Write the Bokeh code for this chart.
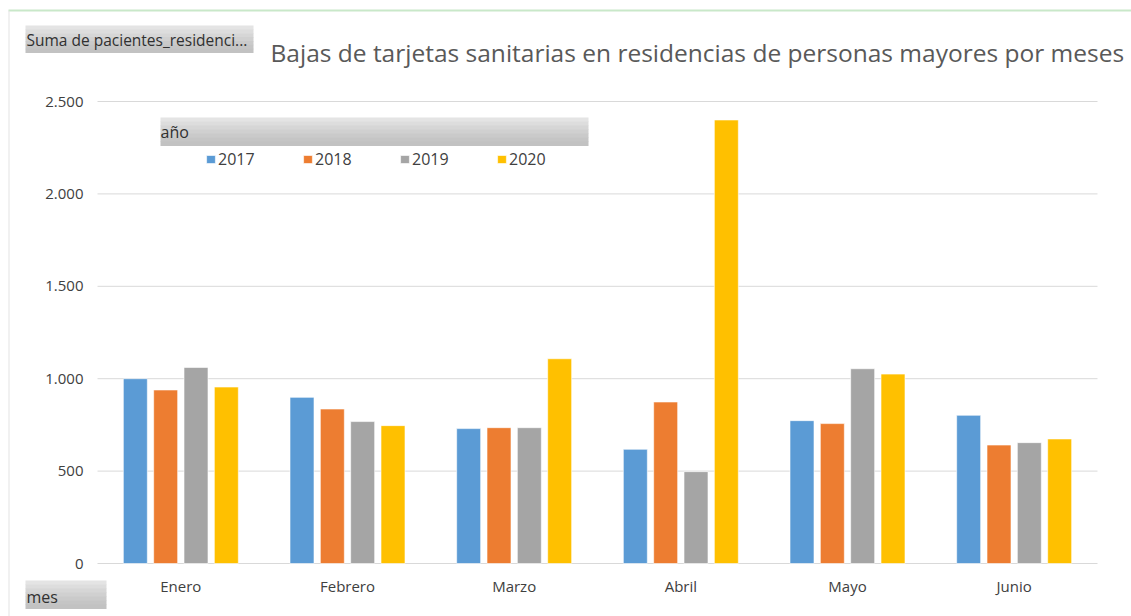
from bokeh.plotting import figure
from bokeh.models import (Range1d, FixedTicker, Label, BoxAnnotation,
                          Legend, LegendItem, ColumnDataSource)
from bokeh.transform import dodge
from bokeh.embed import file_html
from bokeh.resources import INLINE

meses = ["Enero", "Febrero", "Marzo", "Abril", "Mayo", "Junio"]
anios = ["2017", "2018", "2019", "2020"]
v2017 = [1000, 899, 730, 618, 773, 802]
v2018 = [939, 836, 735, 874, 757, 641]
v2019 = [1061, 768, 735, 497, 1054, 654]
v2020 = [955, 746, 1108, 2400, 1025, 674]
y_ticks = [0, 500, 1000, 1500, 2000, 2500]
y_tick_labels = ["0", "500", "1.000", "1.500", "2.000", "2.500"]
colores = ["#5B9BD5", "#ED7D31", "#A5A5A5", "#FFC000"]

FONT = "Open Sans"
W, H = 1131, 616
# plot area on the canvas: x 97..1097, y 101 (2.500) .. 563 (0)
PX_L, PX_R, PY_T, PY_B = 97, 1097, 101, 563
ncat = len(meses)
cat_px = (PX_R - PX_L) / ncat
y_px = (PY_B - PY_T) / y_ticks[-1]

centros = [i + 0.5 for i in range(ncat)]
src = ColumnDataSource(dict(x=centros, mes=meses, v2017=v2017, v2018=v2018,
                            v2019=v2019, v2020=v2020))

x_range = Range1d(-PX_L / cat_px, (W - PX_L) / cat_px)
y_range = Range1d(-(H - PY_B) / y_px, y_ticks[-1] + PY_T / y_px)

p = figure(width=W, height=H, x_range=x_range, y_range=y_range,
           output_backend="svg", toolbar_location=None,
           min_border=0, min_border_left=0, min_border_right=0,
           min_border_top=0, min_border_bottom=0)
p.outline_line_color = None
p.background_fill_color = "white"
p.border_fill_color = "white"
p.xgrid.grid_line_color = None
p.ygrid.grid_line_color = None

# gridlines limited to the plot area
p.segment(x0=0, x1=ncat, y0=y_ticks, y1=y_ticks, line_color="#d9d9d9", line_width=1)

offsets = [-0.273, -0.091, 0.091, 0.273]
renderers = []
for anio, col, off in zip(anios, colores, offsets):
    r = p.vbar(x=dodge("x", off), top="v" + anio, width=0.144, bottom=0,
               source=src, fill_color=col, line_color="white", line_width=1, line_alpha=0.6)
    renderers.append(r)

p.yaxis.fixed_location = 0
p.xaxis.fixed_location = 0
p.yaxis.ticker = FixedTicker(ticks=y_ticks)
p.yaxis.major_label_overrides = {t: l for t, l in zip(y_ticks, y_tick_labels)}
p.xaxis.ticker = FixedTicker(ticks=centros)
p.xaxis.major_label_overrides = {c: m for c, m in zip(centros, meses)}
for ax in (p.xaxis[0], p.yaxis[0]):
    ax.axis_line_color = None
    ax.major_tick_line_color = None
    ax.minor_tick_line_color = None
    ax.major_tick_out = 0
    ax.major_tick_in = 0
    ax.major_label_text_font = FONT
    ax.major_label_text_font_size = "15px"
    ax.major_label_text_color = "#404040"
p.yaxis.major_label_standoff = 14
p.xaxis.major_label_standoff = 12


def fy(py):
    return H - py


def caja(l, r, t, b, color, line=None):
    p.add_layout(BoxAnnotation(left=l, right=r, top=fy(t), bottom=fy(b),
                               left_units="screen", right_units="screen", top_units="screen",
                               bottom_units="screen", fill_color=color, fill_alpha=1,
                               line_color=line, line_width=1))


# outer chart border pieces
caja(8, W, 9, 11, "#c9e8c9")
caja(8, 9, 10, H, "#e3e3e3")

# field buttons with a soft vertical gradient
grad = ["#e4e4e4", "#dddddd", "#d6d6d6", "#d0d0d0", "#cacaca", "#c5c5c5", "#c2c2c2"]


def boton(l, r, t, b):
    n = len(grad)
    h = (b - t) / n
    for k, c in enumerate(grad):
        caja(l, r, t + k * h, t + (k + 1) * h + 0.5, c)


boton(25, 253, 25, 52)
boton(160, 588, 117, 145)
boton(25, 106, 580, 608)


def texto(x, y, s, size="16px", color="#303030"):
    p.add_layout(Label(x=x, y=fy(y), x_units="screen", y_units="screen", text=s,
                       text_font=FONT, text_font_size=size, text_color=color,
                       text_baseline="middle"))


texto(26, 39, "Suma de pacientes_residenci...", size="15.5px")
texto(160, 131, "año")
texto(26, 596, "mes")
texto(270, 52, "Bajas de tarjetas sanitarias en residencias de personas mayores por meses",
      size="24.5px", color="#595959")

legend = Legend(items=[LegendItem(label=a, renderers=[r]) for a, r in zip(anios, renderers)],
                orientation="horizontal", location=(205, fy(170)),
                glyph_width=11, glyph_height=10, label_standoff=2, label_width=70,
                spacing=14, padding=0, margin=0, border_line_color=None,
                background_fill_alpha=0, label_text_font=FONT,
                label_text_font_size="16px", label_text_color="#404040", label_height=20)
p.add_layout(legend)

open("out.html", "w").write(file_html(p, INLINE))
